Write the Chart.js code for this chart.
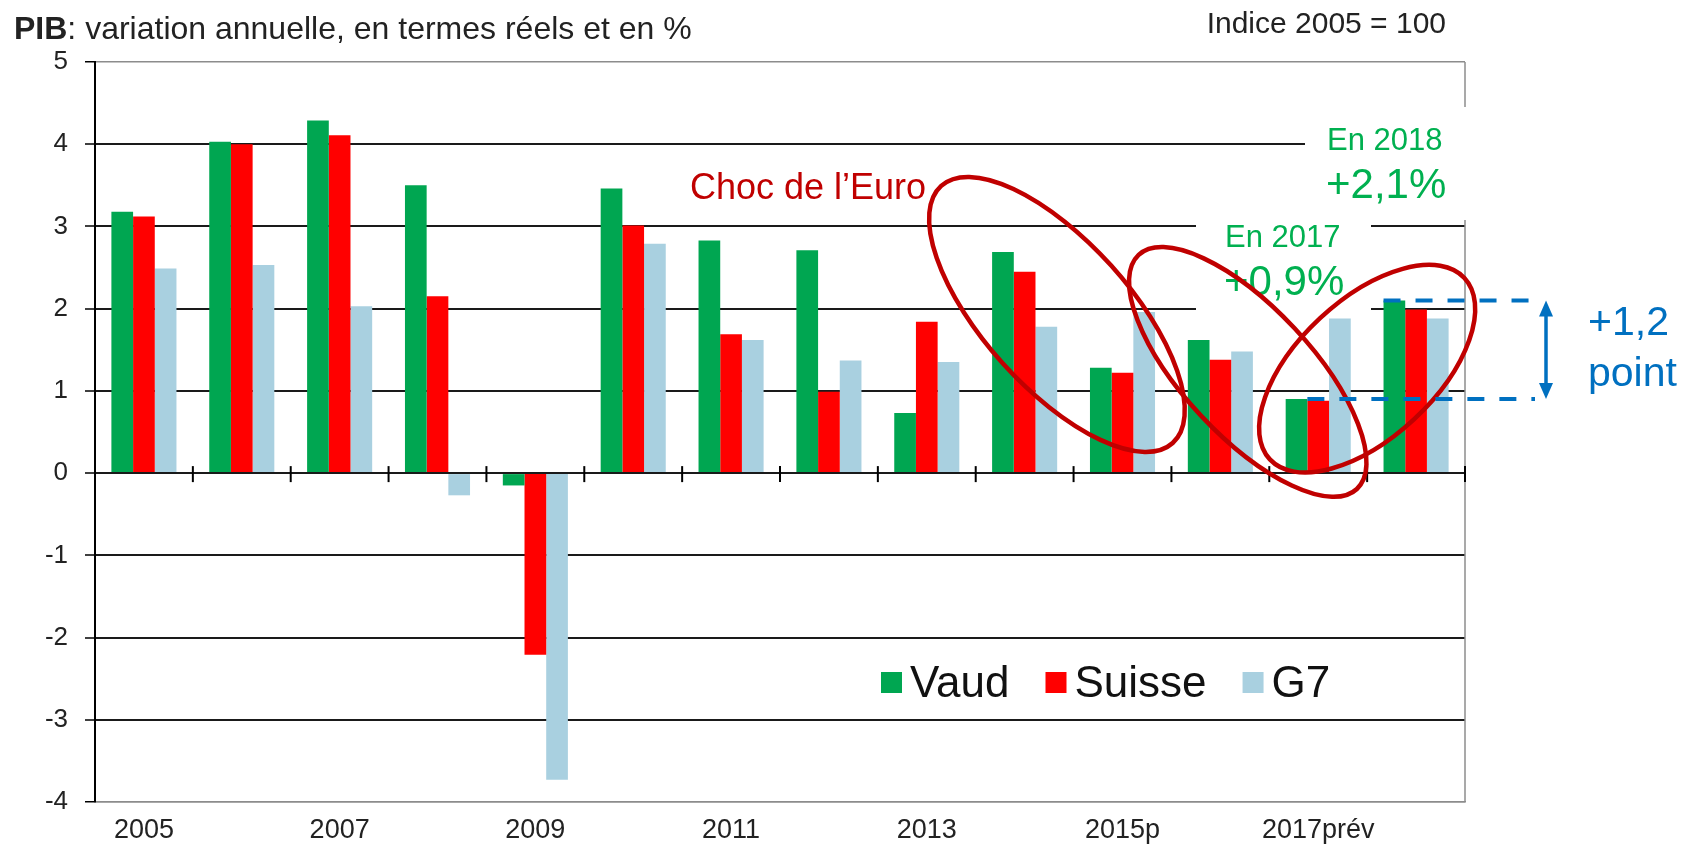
<!DOCTYPE html>
<html>
<head>
<meta charset="utf-8">
<script src="https://cdn.jsdelivr.net/npm/chart.js@4.4.0/dist/chart.umd.min.js"></script>
<style>
  html, body { margin: 0; padding: 0; background: #fff; }
  #wrap { width: 1687px; height: 846px; }
</style>
</head>
<body>
<div id="wrap"><canvas id="graphiquePib" width="1687" height="846"></canvas></div>
<script>
// Données (PIB, variation annuelle en %)
const annees = ['2005', '2006', '2007', '2008', '2009', '2010', '2011', '2012', '2013', '2014', '2015p', '2016p', '2017prév', '2018prév'];
const vaud = [3.18, 4.03, 4.29, 3.50, -0.15, 3.46, 2.83, 2.71, 0.73, 2.69, 1.28, 1.62, 0.90, 2.10];
const suisse = [3.12, 4.00, 4.11, 2.15, -2.21, 3.01, 1.69, 0.99, 1.84, 2.45, 1.22, 1.38, 0.88, 1.99];
const g7 = [2.49, 2.53, 2.03, -0.27, -3.73, 2.79, 1.62, 1.37, 1.35, 1.78, 1.96, 1.48, 1.88, 1.88];
const yTicks = [5, 4, 3, 2, 1, 0, -1, -2, -3, -4];

const police = "'Liberation Sans', Arial, sans-serif";
const VERT = '#00A651', ROUGE = '#FF0000', BLEU_CLAIR = '#A9D0E0';
const ROUGE_FONCE = '#C00000', VERT_TEXTE = '#00B050', BLEU = '#0070C0';

// ellipses : centre en (index de catégorie, valeur), rayons en px, rotation en degrés
const ellipses = [
  { i: 9.33, v: 1.93, rx: 173, ry: 73, rot: 48 },
  { i: 11.28, v: 1.23, rx: 160, ry: 64, rot: 47 },
  { i: 12.5, v: 1.27, rx: 133, ry: 69, rot: -43 }
];

const annotations = {
  id: 'annotations',
  beforeDatasetsDraw(chart) {
    const { ctx, chartArea: a } = chart;
    ctx.save();
    // bord droit gris
    ctx.strokeStyle = '#8c8c8c';
    ctx.lineWidth = 1.5;
    ctx.beginPath();
    ctx.moveTo(a.right, a.top);
    ctx.lineTo(a.right, a.bottom);
    ctx.stroke();
    // fonds blancs des zones de texte
    ctx.fillStyle = '#fff';
    ctx.fillRect(1305, 107, 170, 113);
    ctx.fillRect(1196, 222, 175, 94);
    ctx.restore();
  },
  afterDatasetsDraw(chart) {
    const { ctx, chartArea: a, scales: { x, y } } = chart;
    ctx.save();

    // petits traits sur l'axe zéro
    const y0 = y.getPixelForValue(0);
    ctx.strokeStyle = '#000';
    ctx.lineWidth = 2;
    for (let i = 1; i <= annees.length; i++) {
      const px = x.getPixelForValue(i - 0.5);
      ctx.beginPath();
      ctx.moveTo(px, y0 - 7);
      ctx.lineTo(px, y0 + 9);
      ctx.stroke();
    }

    // titres
    ctx.fillStyle = '#222';
    ctx.textBaseline = 'alphabetic';
    ctx.textAlign = 'left';
    ctx.font = 'bold 32px ' + police;
    ctx.fillText('PIB', 14, 39);
    const wPib = ctx.measureText('PIB').width;
    ctx.font = '32px ' + police;
    ctx.fillText(': variation annuelle, en termes réels et en %', 14 + wPib, 39);
    ctx.textAlign = 'right';
    ctx.font = '30px ' + police;
    ctx.fillText('Indice 2005 = 100', 1446, 33);

    // légende
    ctx.textAlign = 'left';
    ctx.font = '44px ' + police;
    let lx = 881;
    chart.data.datasets.forEach(ds => {
      ctx.fillStyle = ds.backgroundColor;
      ctx.fillRect(lx, 672, 21, 21);
      ctx.fillStyle = '#111';
      ctx.fillText(ds.label, lx + 29, 697);
      lx += 29 + ctx.measureText(ds.label).width + 36;
    });

    // textes
    ctx.fillStyle = ROUGE_FONCE;
    ctx.font = '36px ' + police;
    ctx.fillText('Choc de l\u2019Euro', 690, 199);
    ctx.fillStyle = VERT_TEXTE;
    ctx.font = '31px ' + police;
    ctx.fillText('En 2018', 1327, 150);
    ctx.fillText('En 2017', 1225, 247);
    ctx.font = '42px ' + police;
    ctx.fillText('+2,1%', 1326, 198);
    ctx.fillText('+0,9%', 1224, 295);
    ctx.fillStyle = BLEU;
    ctx.font = '41px ' + police;
    ctx.fillText('+1,2', 1588, 335);
    ctx.fillText('point', 1588, 386);

    // ellipses
    ctx.strokeStyle = ROUGE_FONCE;
    ctx.lineWidth = 4.5;
    ellipses.forEach(e => {
      ctx.beginPath();
      ctx.ellipse(x.getPixelForValue(e.i), y.getPixelForValue(e.v), e.rx, e.ry, e.rot * Math.PI / 180, 0, Math.PI * 2);
      ctx.stroke();
    });

    // écart 2017 -> 2018 (lignes pointillées + flèche)
    const m0 = chart.getDatasetMeta(0), m1 = chart.getDatasetMeta(1);
    const yHaut = y.getPixelForValue(vaud[13]);
    const yBas = y.getPixelForValue(vaud[12]);
    const b18 = m0.data[13], b17 = m1.data[12];
    const xFin = a.right + 70;
    ctx.strokeStyle = BLEU;
    ctx.lineWidth = 4;
    ctx.setLineDash([17, 15]);
    ctx.beginPath();
    ctx.moveTo(b18.x - b18.width / 2, yHaut);
    ctx.lineTo(xFin, yHaut);
    ctx.moveTo(b17.x - b17.width / 2, yBas);
    ctx.lineTo(xFin, yBas);
    ctx.stroke();
    ctx.setLineDash([]);
    const xf = a.right + 81;
    ctx.lineWidth = 3.5;
    ctx.beginPath();
    ctx.moveTo(xf, yHaut + 12);
    ctx.lineTo(xf, yBas - 12);
    ctx.stroke();
    ctx.fillStyle = BLEU;
    ctx.beginPath();
    ctx.moveTo(xf, yHaut);
    ctx.lineTo(xf - 7, yHaut + 16);
    ctx.lineTo(xf + 7, yHaut + 16);
    ctx.closePath();
    ctx.fill();
    ctx.beginPath();
    ctx.moveTo(xf, yBas);
    ctx.lineTo(xf - 7, yBas - 16);
    ctx.lineTo(xf + 7, yBas - 16);
    ctx.closePath();
    ctx.fill();

    ctx.restore();
  }
};

new Chart(document.getElementById('graphiquePib'), {
  type: 'bar',
  data: {
    labels: annees,
    datasets: [
      { label: 'Vaud', data: vaud, backgroundColor: VERT },
      { label: 'Suisse', data: suisse, backgroundColor: ROUGE },
      { label: 'G7', data: g7, backgroundColor: BLEU_CLAIR }
    ]
  },
  options: {
    responsive: false,
    animation: false,
    layout: { padding: { top: 62, right: 222, left: 0, bottom: 0 } },
    datasets: { bar: { categoryPercentage: 0.665, barPercentage: 1.0, borderWidth: 0 } },
    plugins: { legend: { display: false }, tooltip: { enabled: false } },
    scales: {
      x: {
        afterFit(s) { s.height = 44; },
        grid: { display: false, drawTicks: false },
        border: { display: true, color: '#8c8c8c', width: 1.5 },
        ticks: {
          autoSkip: false,
          maxRotation: 0,
          padding: 12,
          color: '#222',
          font: { family: police, size: 27 },
          callback: (v, i) => (i % 2 === 0 ? annees[i] : '')
        }
      },
      y: {
        afterFit(s) { s.width = 95; },
        min: -4,
        max: 5,
        afterBuildTicks(s) { s.ticks = yTicks.map(v => ({ value: v })); },
        grid: {
          color: c => (c.tick.value === 5 || c.tick.value === -4 ? '#8c8c8c' : '#1a1a1a'),
          lineWidth: c => (c.tick.value === 5 || c.tick.value === -4 ? 1.5 : 2),
          tickColor: '#000',
          tickLength: 10,
          tickWidth: 1.5
        },
        border: { color: '#000', width: 2 },
        ticks: {
          padding: 17,
          color: '#222',
          font: { family: police, size: 26 }
        }
      }
    }
  },
  plugins: [annotations]
});
</script>
</body>
</html>
